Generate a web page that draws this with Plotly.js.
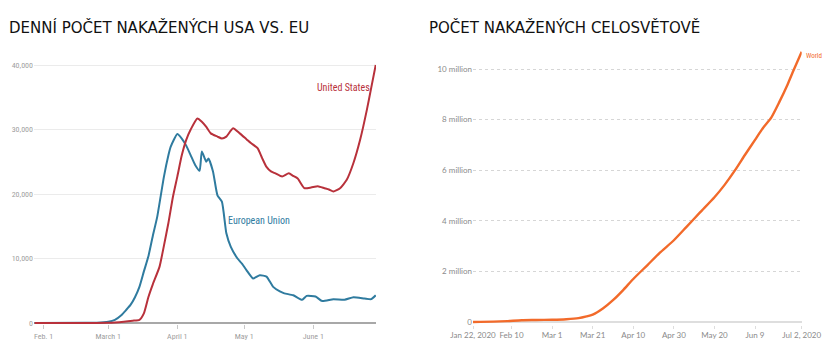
<!DOCTYPE html>
<html>
<head>
<meta charset="utf-8">
<script src="https://cdn.plot.ly/plotly-3.0.1.min.js"></script>
<style>html,body{margin:0;padding:0;background:#fff;}#chart{width:837px;height:353px;}</style>
</head>
<body>
<div id="chart"></div>
<script>
// ---- Left chart: daily new cases, United States vs European Union ----
const usDates = ['2020-01-28','2020-02-15','2020-03-01','2020-03-08','2020-03-12','2020-03-15','2020-03-17','2020-03-19','2020-03-21','2020-03-24','2020-03-26','2020-03-28','2020-03-30','2020-04-01','2020-04-03','2020-04-05','2020-04-07','2020-04-10','2020-04-12','2020-04-14','2020-04-16','2020-04-19','2020-04-21','2020-04-23','2020-04-26','2020-04-29','2020-05-02','2020-05-04','2020-05-07','2020-05-09','2020-05-11','2020-05-13','2020-05-15','2020-05-18','2020-05-21','2020-05-23','2020-05-25','2020-05-28','2020-05-31','2020-06-03','2020-06-06','2020-06-08','2020-06-10','2020-06-13','2020-06-16','2020-06-19','2020-06-22','2020-06-25','2020-06-27','2020-06-29'];
const usValues = [0,0,30,200,350,500,1500,4000,6000,8700,12000,15500,19500,22700,26000,28400,30000,31700,31200,30400,29400,28900,28600,28900,30200,29400,28500,27900,27100,25600,24200,23500,23200,22700,23200,22800,22400,20900,21000,21200,20900,20700,20400,20900,22200,24800,28400,33000,36500,40000];

const euDates = ['2020-01-28','2020-02-20','2020-02-25','2020-03-01','2020-03-04','2020-03-07','2020-03-09','2020-03-11','2020-03-13','2020-03-15','2020-03-17','2020-03-19','2020-03-21','2020-03-23','2020-03-26','2020-03-28','2020-03-29','2020-04-01','2020-04-03','2020-04-05','2020-04-07','2020-04-09','2020-04-11','2020-04-12','2020-04-14','2020-04-15','2020-04-17','2020-04-19','2020-04-21','2020-04-23','2020-04-25','2020-04-28','2020-04-30','2020-05-02','2020-05-05','2020-05-08','2020-05-11','2020-05-14','2020-05-17','2020-05-19','2020-05-23','2020-05-27','2020-05-29','2020-06-02','2020-06-05','2020-06-10','2020-06-15','2020-06-19','2020-06-24','2020-06-27','2020-06-29'];
const euValues = [0,20,50,200,500,1240,2000,2800,4000,5600,8000,10300,13500,16500,22700,26000,27300,29300,28600,27500,26000,24500,23600,26600,25000,25500,23500,19800,18800,13900,11800,10000,9200,8200,6900,7400,7200,5600,4900,4600,4300,3600,4200,4100,3400,3700,3600,4000,3800,3700,4300];

const leftTickVals = ['2020-02-01','2020-03-01','2020-04-01','2020-05-01','2020-06-01'];
const leftTickText = ['Feb. 1','March 1','April 1','May 1','June 1'];
const leftYVals = [0,10000,20000,30000,40000];
const leftYText = ['0','10,000','20,000','30,000','40,000'];

// ---- Right chart: cumulative worldwide cases ----
const worldDates = ['2020-01-22','2020-02-01','2020-02-08','2020-02-15','2020-02-22','2020-03-01','2020-03-08','2020-03-14','2020-03-18','2020-03-21','2020-03-26','2020-03-31','2020-04-05','2020-04-10','2020-04-17','2020-04-23','2020-04-30','2020-05-06','2020-05-13','2020-05-20','2020-05-25','2020-05-30','2020-06-04','2020-06-09','2020-06-13','2020-06-17','2020-06-21','2020-06-25','2020-06-28','2020-07-02'];
const worldValues = [555,12000,35000,69000,78000,88000,110000,150000,220000,290000,530000,860000,1260000,1700000,2250000,2730000,3230000,3740000,4340000,4930000,5420000,5980000,6600000,7200000,7680000,8080000,8700000,9380000,9950000,10680000];

const rightTickVals = ['2020-01-22','2020-02-10','2020-03-01','2020-03-21','2020-04-10','2020-04-30','2020-05-20','2020-06-09','2020-07-02'];
const rightTickText = ['Jan 22, 2020','Feb 10','Mar 1','Mar 21','Apr 10','Apr 30','May 20','Jun 9','Jul 2, 2020'];
const rightYVals = [0,2e6,4e6,6e6,8e6,1e7];
const rightYText = ['0','2 million','4 million','6 million','8 million','10 million'];

const W = 837, H = 353;
const px = v => v / W;
const py = v => 1 - v / H;

const RED = '#b8313b', BLUE = '#2f7b9f', ORANGE = '#f26a2a';
const narrow = '"Liberation Sans Narrow", "Arial Narrow", "Roboto Condensed", sans-serif';
const titleFont = '"DejaVu Sans", Verdana, sans-serif';

const traces = [
  {x: euDates, y: euValues, type: 'scatter', mode: 'lines', line: {color: BLUE, width: 2, shape: 'spline', smoothing: 0.5}, xaxis: 'x', yaxis: 'y', hoverinfo: 'skip'},
  {x: usDates, y: usValues, type: 'scatter', mode: 'lines', line: {color: RED, width: 2, shape: 'spline', smoothing: 0.5}, xaxis: 'x', yaxis: 'y', hoverinfo: 'skip'},
  {x: worldDates, y: worldValues, type: 'scatter', mode: 'lines', line: {color: ORANGE, width: 2.4, shape: 'spline', smoothing: 0.6}, xaxis: 'x2', yaxis: 'y2', hoverinfo: 'skip'}
];

const layout = {
  width: W, height: H, autosize: false,
  margin: {l: 0, r: 0, t: 0, b: 0},
  paper_bgcolor: '#fff', plot_bgcolor: '#fff',
  showlegend: false,
  xaxis: {
    type: 'date', domain: [px(34), px(376)],
    range: ['2020-01-27 17:00', '2020-06-29 03:00'],
    tickvals: leftTickVals, ticktext: leftTickText,
    ticks: 'outside', ticklen: 4, tickcolor: '#c8c8c8', tickwidth: 1,
    showgrid: false, zeroline: false, showline: false,
    tickfont: {family: narrow, size: 8, color: '#a0a0a0'}
  },
  yaxis: {
    domain: [py(323.97), py(61.13)],
    range: [-150, 40600],
    tickvals: leftYVals, ticktext: leftYText,
    showgrid: true, gridcolor: '#ebebeb', gridwidth: 1,
    zeroline: true, zerolinecolor: '#a8a8a8', zerolinewidth: 2,
    ticks: '', showline: false,
    tickfont: {family: narrow, size: 8, color: '#a0a0a0'}
  },
  xaxis2: {
    type: 'date', domain: [px(473), px(801.7)], anchor: 'y2',
    range: ['2020-01-22', '2020-07-02'],
    tickvals: rightTickVals, ticktext: rightTickText,
    ticks: 'outside', ticklen: 3, tickcolor: '#dddddd',
    showgrid: false, zeroline: false, showline: false,
    tickfont: {family: 'Lato, sans-serif', size: 8, color: '#8a8a8a'}
  },
  yaxis2: {
    domain: [py(324.5), py(43.7)], anchor: 'x2',
    range: [-100000, 11000000],
    tickvals: rightYVals, ticktext: rightYText,
    showgrid: true, gridcolor: '#d6d6d6', gridwidth: 1, griddash: 'dot',
    zeroline: true, zerolinecolor: '#dedede', zerolinewidth: 1.5,
    ticks: '', showline: false,
    tickfont: {family: 'Lato, sans-serif', size: 8, color: '#8a8a8a'}
  },
  annotations: [
    {text: 'DENNÍ POČET NAKAŽENÝCH USA VS. EU', xref: 'paper', yref: 'paper', x: px(7), y: py(27), xanchor: 'left', yanchor: 'middle', showarrow: false,
     font: {family: titleFont, size: 15, color: '#111'}},
    {text: 'POČET NAKAŽENÝCH CELOSVĚTOVĚ', xref: 'paper', yref: 'paper', x: px(427), y: py(27), xanchor: 'left', yanchor: 'middle', showarrow: false,
     font: {family: titleFont, size: 15, color: '#111'}},
    {text: 'United States', xref: 'paper', yref: 'paper', x: px(343), y: py(88), xanchor: 'center', yanchor: 'middle', showarrow: false,
     font: {family: narrow, size: 10, color: RED}},
    {text: 'European Union', xref: 'paper', yref: 'paper', x: px(259), y: py(221), xanchor: 'center', yanchor: 'middle', showarrow: false,
     font: {family: narrow, size: 10, color: BLUE}},
    {text: 'World', xref: 'paper', yref: 'paper', x: px(804), y: py(56), xanchor: 'left', yanchor: 'middle', showarrow: false,
     font: {family: narrow, size: 7, color: ORANGE}}
  ]
};

Plotly.newPlot('chart', traces, layout, {staticPlot: true, displayModeBar: false});
</script>
</body>
</html>
